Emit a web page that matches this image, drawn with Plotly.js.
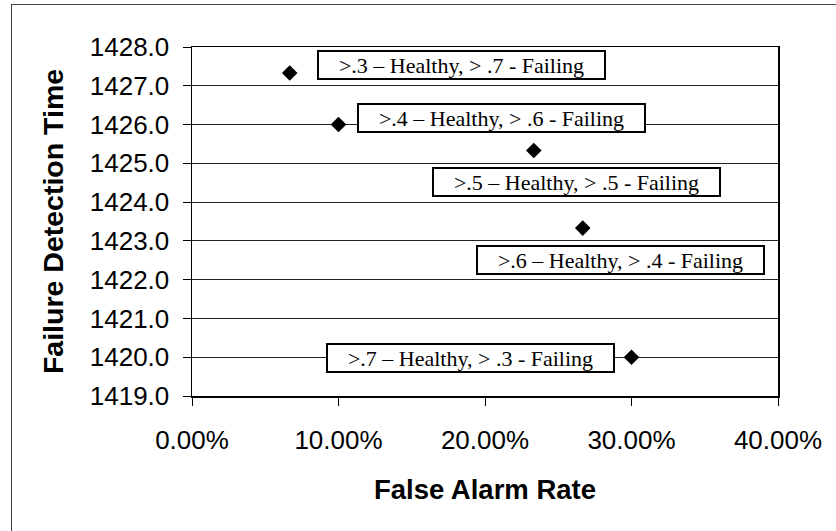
<!DOCTYPE html>
<html>
<head>
<meta charset="utf-8">
<script src="https://cdn.plot.ly/plotly-3.0.1.min.js"></script>
<style>
  html, body { margin: 0; padding: 0; background: #fff; }
  #frame { position: absolute; left: 11px; top: 4px; width: 900px; height: 600px;
           border-left: 1px solid #444; border-top: 1px solid #444; pointer-events: none; z-index: 5; }
  #chart { position: absolute; left: 0; top: 0; width: 836px; height: 531px; }
</style>
</head>
<body>
<div id="chart"></div>
<div id="frame"></div>
<script>
// Data
const falseAlarmRate = [0.0667, 0.10, 0.2333, 0.2667, 0.30];
const detectionTime = [1427.33, 1426.0, 1425.33, 1423.33, 1420.0];
const labels = [
  ">.3 \u2013 Healthy, > .7 - Failing",
  ">.4 \u2013 Healthy, > .6 - Failing",
  ">.5 \u2013 Healthy, > .5 - Failing",
  ">.6 \u2013 Healthy, > .4 - Failing",
  ">.7 \u2013 Healthy, > .3 - Failing"
];
// label box centres (data coordinates)
const labelX = [0.1841, 0.2116, 0.2625, 0.2928, 0.1904];
const labelY = [1427.54, 1426.16, 1424.52, 1422.51, 1419.98];

const trace = {
  x: falseAlarmRate,
  y: detectionTime,
  type: 'scatter',
  mode: 'markers',
  marker: { symbol: 'diamond', size: 12, color: '#000' },
  cliponaxis: false,
  hoverinfo: 'skip'
};

const annotations = labels.map((t, i) => ({
  x: labelX[i], y: labelY[i], xref: 'x', yref: 'y',
  text: t, showarrow: false,
  font: { family: 'Liberation Serif, Times New Roman, serif', size: 22, color: '#000' },
  bgcolor: '#fff', bordercolor: '#000', borderwidth: 2, borderpad: 0,
  width: 285, height: 26, align: 'center', valign: 'middle'
}));

const layout = {
  width: 836, height: 531,
  margin: { l: 192, r: 58, t: 47, b: 135 },
  paper_bgcolor: '#fff', plot_bgcolor: '#fff',
  showlegend: false,
  font: { family: 'Liberation Sans, Arial, sans-serif', color: '#000' },
  xaxis: {
    range: [0, 0.4], dtick: 0.1, tick0: 0, tickformat: '.2%',
    showgrid: false, zeroline: false,
    showline: true, linecolor: '#000', linewidth: 1.5, mirror: true,
    ticks: 'outside', ticklen: 8, tickcolor: '#000', tickwidth: 1,
    ticklabelstandoff: 12,
    tickfont: { size: 26, family: 'Liberation Sans, Arial, sans-serif' },
    title: { text: 'False Alarm Rate', standoff: 26,
             font: { size: 27.5, family: 'Liberation Sans, Arial, sans-serif', weight: 'bold' } },
    fixedrange: true
  },
  yaxis: {
    range: [1419, 1428], dtick: 1, tick0: 1419, tickformat: '.1f',
    showgrid: true, gridcolor: '#222', gridwidth: 1, zeroline: false,
    showline: true, linecolor: '#000', linewidth: 1.5, mirror: true,
    ticks: 'outside', ticklen: 8, tickcolor: '#000', tickwidth: 1,
    ticklabelstandoff: 8,
    tickfont: { size: 26, family: 'Liberation Sans, Arial, sans-serif' },
    title: { text: 'Failure Detection Time', standoff: 18,
             font: { size: 28.5, family: 'Liberation Sans, Arial, sans-serif', weight: 'bold' } },
    fixedrange: true
  },
  annotations: annotations
};

Plotly.newPlot('chart', [trace], layout, { displayModeBar: false, staticPlot: true });
</script>
</body>
</html>
